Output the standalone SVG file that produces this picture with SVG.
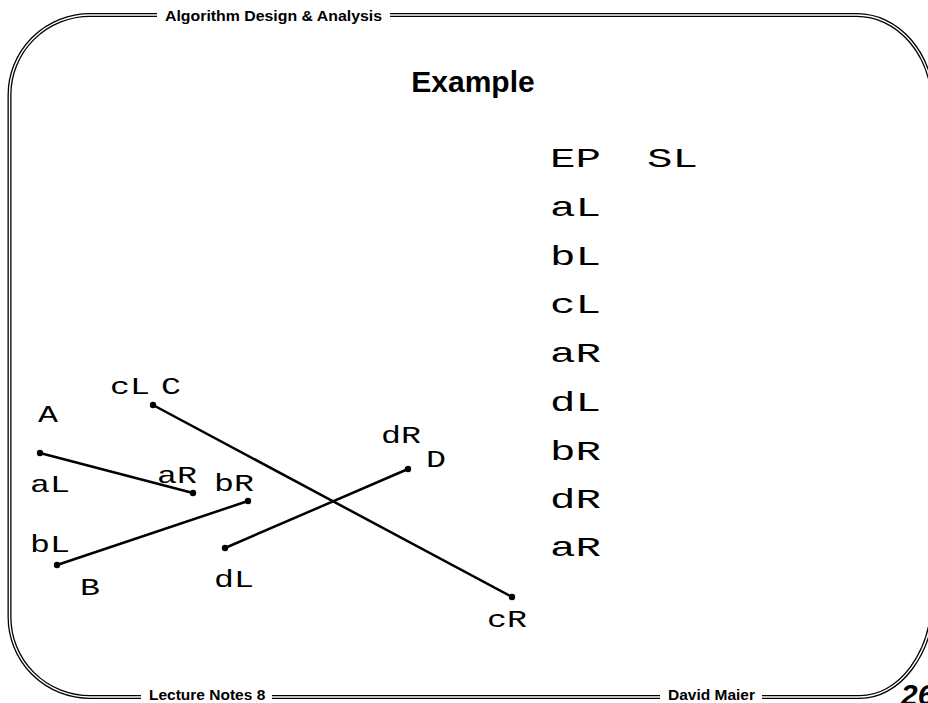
<svg xmlns="http://www.w3.org/2000/svg" width="928" height="703" viewBox="0 0 928 703">
<style>
.frame-o{fill:none;stroke:#000;stroke-width:4}
.frame-i{fill:none;stroke:#fff;stroke-width:1.4}
.hdr{font-family:"Liberation Sans",Arial,sans-serif;font-weight:bold;font-size:15.5px;fill:#000}
.title{font-family:"Liberation Sans",Arial,sans-serif;font-weight:bold;font-size:30px;fill:#000}
.pg{font-family:"Liberation Sans",Arial,sans-serif;font-weight:bold;font-style:italic;font-size:30px;fill:#000}
.lbl{font-family:"Liberation Mono","Courier New",monospace;font-size:24px;fill:#000}
.col{font-family:"Liberation Mono","Courier New",monospace;font-size:28px;fill:#000}
.seg{stroke:#000;stroke-width:2.5;fill:none}
.dot{fill:#000}
</style>
<rect width="928" height="703" fill="#fff"/>
<g id="frame">
<path class="frame-o" d="M933,105 A76,90 0 0 0 857,15 H90 A80.5,80 0 0 0 9.5,95 V617 A80.5,80 0 0 0 90,697 H860 A73,100 0 0 0 933,597"/>
<path class="frame-i" d="M933,105 A76,90 0 0 0 857,15 H90 A80.5,80 0 0 0 9.5,95 V617 A80.5,80 0 0 0 90,697 H860 A73,100 0 0 0 933,597"/>
<rect x="157" y="5" width="233" height="20" fill="#fff"/>
<rect x="141" y="688" width="131" height="15" fill="#fff"/>
<rect x="660" y="688" width="102" height="15" fill="#fff"/>
<text class="hdr" x="165" y="21" textLength="217" lengthAdjust="spacingAndGlyphs">Algorithm Design &amp; Analysis</text>
<text class="hdr" x="149" y="700">Lecture Notes 8</text>
<text class="hdr" x="668" y="700">David Maier</text>
<text class="pg" x="901" y="705">26</text>
</g>
<text class="title" x="473" y="92" text-anchor="middle">Example</text>
<g id="table">
<text class="col" x="550" y="167" textLength="51" lengthAdjust="spacingAndGlyphs">EP</text>
<text class="col" x="647" y="167" textLength="51" lengthAdjust="spacingAndGlyphs">SL</text>
<text class="col" x="550" y="216" textLength="51" lengthAdjust="spacingAndGlyphs">aL</text>
<text class="col" x="550" y="265" textLength="51" lengthAdjust="spacingAndGlyphs">bL</text>
<text class="col" x="550" y="313" textLength="51" lengthAdjust="spacingAndGlyphs">cL</text>
<text class="col" x="550" y="362" textLength="51" lengthAdjust="spacingAndGlyphs">aR</text>
<text class="col" x="550" y="411" textLength="51" lengthAdjust="spacingAndGlyphs">dL</text>
<text class="col" x="550" y="460" textLength="51" lengthAdjust="spacingAndGlyphs">bR</text>
<text class="col" x="550" y="508" textLength="51" lengthAdjust="spacingAndGlyphs">dR</text>
<text class="col" x="550" y="556" textLength="51" lengthAdjust="spacingAndGlyphs">aR</text>
</g>
<g id="connectors">
<line class="seg" x1="40" y1="453" x2="193" y2="493"/>
<line class="seg" x1="57" y1="565" x2="248" y2="501"/>
<line class="seg" x1="153" y1="405" x2="512" y2="597"/>
<line class="seg" x1="225" y1="548" x2="408" y2="469"/>
</g>
<g id="segA">
<circle class="dot" cx="40" cy="453" r="3.2"/>
<circle class="dot" cx="193" cy="493" r="3.2"/>
<text class="lbl" x="38" y="422" textLength="20" lengthAdjust="spacingAndGlyphs">A</text>
<text class="lbl" x="30" y="492" textLength="40" lengthAdjust="spacingAndGlyphs">aL</text>
<text class="lbl" x="157" y="483" textLength="40" lengthAdjust="spacingAndGlyphs">aR</text>
</g>
<g id="segB">
<circle class="dot" cx="57" cy="565" r="3.2"/>
<circle class="dot" cx="248" cy="501" r="3.2"/>
<text class="lbl" x="80" y="595" textLength="20" lengthAdjust="spacingAndGlyphs">B</text>
<text class="lbl" x="30" y="552" textLength="40" lengthAdjust="spacingAndGlyphs">bL</text>
<text class="lbl" x="214" y="491" textLength="40" lengthAdjust="spacingAndGlyphs">bR</text>
</g>
<g id="segC">
<circle class="dot" cx="153" cy="405" r="3.2"/>
<circle class="dot" cx="512" cy="597" r="3.2"/>
<text class="lbl" x="110" y="394" textLength="40" lengthAdjust="spacingAndGlyphs">cL</text>
<text class="lbl" x="161" y="394" textLength="20" lengthAdjust="spacingAndGlyphs">C</text>
<text class="lbl" x="487" y="627" textLength="40" lengthAdjust="spacingAndGlyphs">cR</text>
</g>
<g id="segD">
<circle class="dot" cx="225" cy="548" r="3.2"/>
<circle class="dot" cx="408" cy="469" r="3.2"/>
<text class="lbl" x="214" y="587" textLength="40" lengthAdjust="spacingAndGlyphs">dL</text>
<text class="lbl" x="381" y="443" textLength="40" lengthAdjust="spacingAndGlyphs">dR</text>
<text class="lbl" x="426" y="467" textLength="20" lengthAdjust="spacingAndGlyphs">D</text>
</g>
</svg>
